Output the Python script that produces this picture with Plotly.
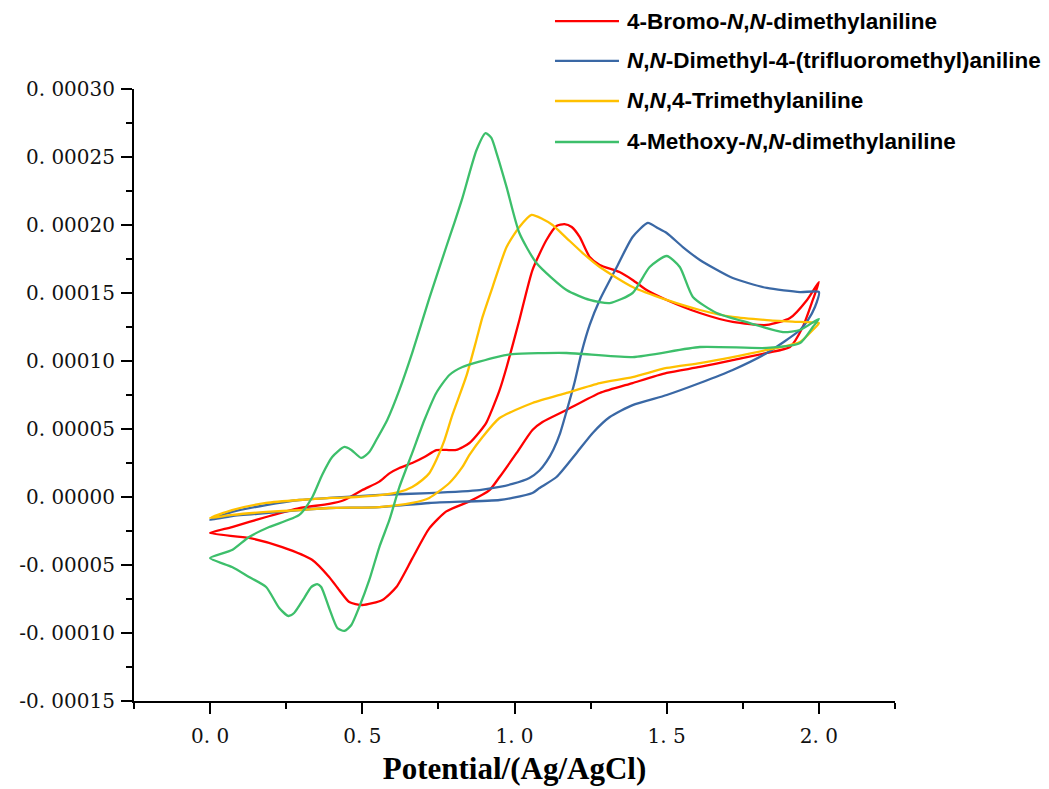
import plotly.graph_objects as go

# ---------------- data ----------------
names = [
    "4-Bromo-<i>N</i>,<i>N</i>-dimethylaniline",
    "<i>N</i>,<i>N</i>-Dimethyl-4-(trifluoromethyl)aniline",
    "<i>N</i>,<i>N</i>,4-Trimethylaniline",
    "4-Methoxy-<i>N</i>,<i>N</i>-dimethylaniline",
]
colors = ["#FF0000", "#3A68A5", "#FFC000", "#3DBF6B"]

# 4-Bromo-N,N-dimethylaniline
bromo_x = [0.0, 0.072, 0.184, 0.293, 0.391, 0.441, 0.500, 0.556, 0.589, 0.622, 0.664, 0.704, 0.743,
           0.776, 0.809, 0.852, 0.885, 0.908, 0.928, 0.951, 0.974, 1.016, 1.059, 1.105, 1.138, 1.164,
           1.188, 1.214, 1.247, 1.280, 1.345, 1.388, 1.434, 1.500, 1.609, 1.717, 1.829, 1.905, 1.961,
           2.0,
           1.980, 1.947, 1.905, 1.829, 1.717, 1.609, 1.500, 1.388, 1.280, 1.171, 1.092, 1.059, 1.007,
           0.951, 0.918, 0.852, 0.776, 0.720, 0.664, 0.612, 0.566, 0.500, 0.457, 0.424, 0.391, 0.336,
           0.237, 0.128, 0.0]
bromo_y = [-2.65e-5, -2.21e-5, -1.47e-5, -0.81e-5, -0.51e-5, -0.22e-5, 0.51e-5, 1.13e-5, 1.74e-5,
           2.13e-5, 2.50e-5, 2.94e-5, 3.45e-5, 3.46e-5, 3.46e-5, 3.97e-5, 4.78e-5, 5.49e-5, 6.52e-5,
           7.85e-5, 9.54e-5, 13.01e-5, 16.69e-5, 18.90e-5, 19.93e-5, 20.07e-5, 19.85e-5, 19.12e-5,
           17.65e-5, 17.06e-5, 16.54e-5, 15.96e-5, 15.22e-5, 14.49e-5, 13.53e-5, 12.87e-5, 12.65e-5,
           13.16e-5, 14.49e-5, 15.81e-5,
           14.49e-5, 12.50e-5, 11.03e-5, 10.59e-5, 10.07e-5, 9.56e-5, 9.12e-5, 8.38e-5, 7.65e-5,
           6.40e-5, 5.51e-5, 4.93e-5, 3.24e-5, 1.47e-5, 0.51e-5, -0.32e-5, -1.06e-5, -2.31e-5,
           -4.53e-5, -6.62e-5, -7.57e-5, -7.94e-5, -7.72e-5, -6.84e-5, -5.88e-5, -4.63e-5, -3.68e-5,
           -3.01e-5, -2.65e-5]

# N,N-Dimethyl-4-(trifluoromethyl)aniline
cf3_x = [0.0, 0.072, 0.184, 0.293, 0.391, 0.556, 0.720, 0.885, 0.951, 0.993, 1.049, 1.082, 1.105,
         1.128, 1.150, 1.171, 1.197, 1.220, 1.247, 1.280, 1.336, 1.388, 1.438, 1.470, 1.500, 1.553,
         1.609, 1.717, 1.829, 1.938, 2.0,
         1.987, 1.964, 1.938, 1.829, 1.717, 1.609, 1.500, 1.388, 1.313, 1.257, 1.204, 1.138, 1.082,
         1.059, 0.993, 0.951, 0.720, 0.556, 0.391, 0.293, 0.184, 0.072, 0.0]
cf3_y = [-1.69e-5, -1.10e-5, -0.59e-5, -0.22e-5, -0.07e-5, 0.15e-5, 0.29e-5, 0.51e-5, 0.74e-5,
         0.96e-5, 1.40e-5, 1.95e-5, 2.60e-5, 3.50e-5, 4.70e-5, 6.30e-5, 8.40e-5, 10.60e-5, 12.65e-5,
         14.49e-5, 16.91e-5, 19.12e-5, 20.15e-5, 19.78e-5, 19.41e-5, 18.38e-5, 17.43e-5, 16.10e-5,
         15.37e-5, 15.07e-5, 15.07e-5,
         13.97e-5, 13.01e-5, 12.28e-5, 10.59e-5, 9.34e-5, 8.38e-5, 7.50e-5, 6.76e-5, 5.88e-5,
         4.71e-5, 3.24e-5, 1.47e-5, 0.66e-5, 0.29e-5, -0.07e-5, -0.22e-5, -0.44e-5, -0.74e-5,
         -0.81e-5, -0.96e-5, -1.18e-5, -1.40e-5, -1.69e-5]

# N,N,4-Trimethylaniline
methyl_x = [0.0, 0.072, 0.184, 0.293, 0.401, 0.480, 0.566, 0.622, 0.664, 0.697, 0.720, 0.743, 0.770,
            0.796, 0.842, 0.875, 0.895, 0.928, 0.974, 1.016, 1.056, 1.092, 1.125, 1.171, 1.224,
            1.280, 1.388, 1.500, 1.609, 1.717, 1.829, 1.938, 2.0,
            1.980, 1.938, 1.829, 1.717, 1.609, 1.500, 1.388, 1.280, 1.171, 1.059, 0.951, 0.895,
            0.852, 0.829, 0.786, 0.720, 0.664, 0.556, 0.391, 0.293, 0.184, 0.072, 0.0]
methyl_y = [-1.54e-5, -0.96e-5, -0.44e-5, -0.22e-5, -0.07e-5, 0.0, 0.15e-5, 0.37e-5, 0.74e-5,
            1.25e-5, 1.75e-5, 2.72e-5, 4.19e-5, 6.03e-5, 8.90e-5, 11.56e-5, 13.24e-5, 15.44e-5,
            18.38e-5, 19.85e-5, 20.74e-5, 20.44e-5, 20.00e-5, 19.04e-5, 17.94e-5, 16.91e-5,
            15.44e-5, 14.49e-5, 13.75e-5, 13.24e-5, 13.01e-5, 12.87e-5, 12.79e-5,
            12.28e-5, 11.40e-5, 10.81e-5, 10.29e-5, 9.85e-5, 9.49e-5, 8.82e-5, 8.38e-5, 7.65e-5,
            6.91e-5, 5.81e-5, 4.41e-5, 3.09e-5, 2.21e-5, 1.03e-5, -0.07e-5, -0.44e-5, -0.74e-5,
            -0.81e-5, -0.96e-5, -1.10e-5, -1.32e-5, -1.54e-5]

# 4-Methoxy-N,N-dimethylaniline
methoxy_x = [0.0, 0.072, 0.128, 0.194, 0.293, 0.336, 0.368, 0.401, 0.441, 0.464, 0.497, 0.523,
             0.546, 0.582, 0.622, 0.664, 0.720, 0.776, 0.803, 0.829, 0.875, 0.905, 0.924, 0.941,
             0.974, 1.016, 1.072, 1.171, 1.247, 1.313, 1.388, 1.444, 1.500, 1.543, 1.586, 1.664,
             1.773, 1.882, 1.938, 2.0,
             1.980, 1.938, 1.829, 1.609, 1.388, 1.171, 0.993, 0.941, 0.829, 0.786, 0.743, 0.704,
             0.664, 0.622, 0.589, 0.556, 0.523, 0.490, 0.464, 0.441, 0.418, 0.391, 0.365, 0.352,
             0.332, 0.309, 0.276, 0.257, 0.227, 0.184, 0.128, 0.072, 0.0]
methoxy_y = [-4.49e-5, -3.90e-5, -2.94e-5, -2.21e-5, -1.32e-5, 0.0, 1.62e-5, 2.94e-5, 3.68e-5,
             3.46e-5, 2.87e-5, 3.31e-5, 4.19e-5, 5.66e-5, 7.87e-5, 10.59e-5, 14.60e-5, 18.40e-5,
             20.20e-5, 22.00e-5, 25.50e-5, 26.76e-5, 26.40e-5, 25.29e-5, 22.79e-5, 19.41e-5,
             17.21e-5, 15.22e-5, 14.49e-5, 14.26e-5, 15.00e-5, 16.91e-5, 17.72e-5, 16.91e-5,
             14.71e-5, 13.53e-5, 12.79e-5, 12.13e-5, 12.28e-5, 13.09e-5,
             12.50e-5, 11.32e-5, 10.96e-5, 11.03e-5, 10.29e-5, 10.59e-5, 10.51e-5, 10.29e-5,
             9.56e-5, 8.97e-5, 7.65e-5, 5.66e-5, 3.24e-5, 0.74e-5, -1.69e-5, -3.68e-5, -6.10e-5,
             -8.09e-5, -9.41e-5, -9.85e-5, -9.63e-5, -8.16e-5, -6.62e-5, -6.40e-5, -6.62e-5,
             -7.43e-5, -8.53e-5, -8.75e-5, -8.16e-5, -6.62e-5, -5.88e-5, -5.15e-5, -4.49e-5]

series_x = [bromo_x, cf3_x, methyl_x, methoxy_x]
series_y = [bromo_y, cf3_y, methyl_y, methoxy_y]

y_tickvals = [-0.00015, -0.0001, -0.00005, 0.0, 0.00005, 0.0001, 0.00015, 0.0002, 0.00025, 0.0003]
y_ticktext = ["-0. 00015", "-0. 00010", "-0. 00005", "0. 00000", "0. 00005", "0. 00010",
              "0. 00015", "0. 00020", "0. 00025", "0. 00030"]
x_tickvals = [0.0, 0.5, 1.0, 1.5, 2.0]
x_ticktext = ["0. 0", "0. 5", "1. 0", "1. 5", "2. 0"]
x_title = "Potential/(Ag/AgCl)"

# ---------------- figure ----------------
fig = go.Figure()
for xs, ys, nm, c in zip(series_x, series_y, names, colors):
    fig.add_trace(go.Scatter(x=xs, y=ys, mode="lines", name=nm,
                             line=dict(color=c, width=2.3, shape="spline", smoothing=0.6),
                             showlegend=False))

# manual legend (line samples + labels)
leg_y = [1.111, 1.0458, 0.9804, 0.9134]
for nm, c, yy in zip(names, colors, leg_y):
    fig.add_shape(type="line", xref="paper", yref="paper", x0=0.5532, x1=0.6373, y0=yy, y1=yy,
                  line=dict(color=c, width=2.3))
    fig.add_annotation(xref="paper", yref="paper", x=0.6452, y=yy, text="<b>" + nm + "</b>",
                       showarrow=False, xanchor="left", yanchor="middle",
                       font=dict(family="Liberation Sans, Arial", size=22.5, color="#000000"))

tick_font = dict(family="DejaVu Serif", size=20, color="#111111")
fig.update_layout(
    width=1049, height=789,
    margin=dict(l=134, r=154, t=89, b=88),
    paper_bgcolor="white", plot_bgcolor="white",
    showlegend=False,
    xaxis=dict(range=[-0.25, 2.25], tickvals=x_tickvals, ticktext=x_ticktext, automargin=False,
               showgrid=False, zeroline=False, showline=True, linecolor="black", linewidth=2,
               ticks="outside", ticklen=11, tickwidth=2, tickcolor="black",
               minor=dict(ticks="outside", ticklen=6, tickwidth=2, tickcolor="black",
                          tick0=-0.25, dtick=0.25),
               tickfont=tick_font, ticklabelstandoff=5,
               title=dict(text="<b>" + x_title + "</b>", standoff=10,
                          font=dict(family="Liberation Serif, Times New Roman", size=31,
                                    color="#000000"))),
    yaxis=dict(range=[-0.00015, 0.0003], tickvals=y_tickvals, ticktext=y_ticktext, automargin=False,
               showgrid=False, zeroline=False, showline=True, linecolor="black", linewidth=2,
               ticks="outside", ticklen=11, tickwidth=2, tickcolor="black",
               minor=dict(ticks="outside", ticklen=6, tickwidth=2, tickcolor="black",
                          tick0=-0.00015, dtick=0.000025),
               tickfont=tick_font, ticklabelstandoff=2),
)

fig.write_html("out.html", config={"displayModeBar": False},
               post_script="document.body.style.margin='0';")
